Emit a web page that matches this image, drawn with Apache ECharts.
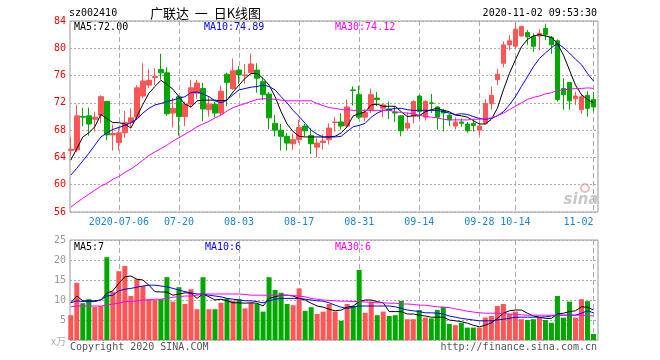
<!DOCTYPE html>
<html>
<head>
<meta charset="utf-8">
<script src="https://cdn.jsdelivr.net/npm/echarts@6/dist/echarts.min.js"></script>
<style>html,body{margin:0;padding:0;background:#fff}#c{width:660px;height:360px}</style>
</head>
<body>
<div id="c"></div>
<script>
const dates = [
'2020-06-22','2020-06-23','2020-06-24',
'2020-06-29','2020-06-30','2020-07-01','2020-07-02','2020-07-03',
'2020-07-06','2020-07-07','2020-07-08','2020-07-09','2020-07-10',
'2020-07-13','2020-07-14','2020-07-15','2020-07-16','2020-07-17',
'2020-07-20','2020-07-21','2020-07-22','2020-07-23','2020-07-24',
'2020-07-27','2020-07-28','2020-07-29','2020-07-30','2020-07-31',
'2020-08-03','2020-08-04','2020-08-05','2020-08-06','2020-08-07',
'2020-08-10','2020-08-11','2020-08-12','2020-08-13','2020-08-14',
'2020-08-17','2020-08-18','2020-08-19','2020-08-20','2020-08-21',
'2020-08-24','2020-08-25','2020-08-26','2020-08-27','2020-08-28',
'2020-08-31','2020-09-01','2020-09-02','2020-09-03','2020-09-04',
'2020-09-07','2020-09-08','2020-09-09','2020-09-10','2020-09-11',
'2020-09-14','2020-09-15','2020-09-16','2020-09-17','2020-09-18',
'2020-09-21','2020-09-22','2020-09-23','2020-09-24','2020-09-25',
'2020-09-28','2020-09-29','2020-09-30',
'2020-10-09',
'2020-10-12','2020-10-13','2020-10-14','2020-10-15','2020-10-16',
'2020-10-19','2020-10-20','2020-10-21','2020-10-22','2020-10-23',
'2020-10-26','2020-10-27','2020-10-28','2020-10-29','2020-10-30',
'2020-11-02'];

const opens = [65.0,65.1,70.0,70.1,69.6,70.2,72.2,67.3,66.2,67.6,
69.1,69.9,73.0,74.6,75.7,76.9,76.4,70.5,72.9,70.0,
71.8,73.4,74.1,71.0,71.8,70.5,76.2,74.1,76.8,76.0,
76.4,76.8,75.1,73.3,69.0,68.0,67.1,66.0,66.6,68.6,
67.2,65.5,66.2,66.6,69.1,69.2,68.6,73.9,73.2,69.9,
71.0,72.7,71.2,71.1,70.6,70.1,68.3,70.1,73.0,69.9,
72.0,71.4,70.9,70.2,68.6,69.2,68.9,69.0,68.0,69.0,
71.9,75.4,77.8,80.5,80.3,81.8,82.3,81.7,81.8,82.9,
81.6,81.1,74.1,75.0,72.6,71.0,73.1,72.5];
const closes = [65.2,70.1,69.9,68.9,69.9,72.9,67.3,67.5,67.6,69.1,
69.8,74.2,75.2,75.3,75.9,76.4,70.4,71.2,70.0,71.8,
74.2,74.9,71.1,71.8,70.5,73.7,75.0,76.7,76.1,76.1,
77.7,75.6,73.2,69.8,68.0,67.1,66.1,66.6,68.4,67.9,
66.0,66.1,66.4,68.3,69.2,68.6,71.4,73.8,69.9,70.6,
73.2,72.5,71.7,70.9,70.5,67.9,69.0,72.2,70.7,72.2,
71.9,69.9,70.5,69.5,69.2,69.0,67.9,68.7,68.6,71.9,
73.1,76.2,80.5,81.1,82.8,83.2,81.7,80.3,82.2,82.0,
80.5,72.5,73.2,72.3,73.0,72.9,71.2,71.4];
const lows = [64.3,64.8,68.6,67.2,67.8,69.0,66.5,65.0,65.0,66.9,
68.4,69.5,72.7,74.2,74.6,75.4,70.1,68.4,67.2,68.6,
71.3,72.6,69.3,70.0,69.9,70.2,71.5,73.9,74.8,74.8,
76.3,73.5,72.4,68.1,67.1,65.0,65.0,65.1,66.1,67.1,
64.5,64.0,65.1,65.9,67.8,68.1,68.3,71.6,69.6,69.3,
70.5,71.5,69.9,69.6,69.2,67.1,68.0,69.0,69.6,69.4,
70.5,68.1,67.8,68.6,68.1,68.5,67.6,67.8,67.2,68.8,
71.0,74.6,77.2,79.7,80.0,81.7,80.5,79.5,79.7,81.2,
79.2,72.2,71.0,71.0,71.7,70.4,70.0,70.7];
const highs = [67.0,71.7,71.3,71.3,70.7,73.1,72.3,68.8,68.4,70.8,
71.2,74.6,77.8,77.0,77.1,79.2,77.2,72.7,73.1,72.2,
75.4,75.4,74.9,73.0,72.2,74.5,76.4,78.5,77.4,77.7,
79.2,77.8,75.6,73.6,70.2,68.9,67.6,67.5,69.5,68.9,
68.3,66.8,67.4,69.0,69.9,70.5,72.5,74.4,74.5,71.1,
74.1,73.6,71.9,72.2,71.5,70.2,70.6,72.4,73.2,72.4,
73.3,71.5,71.1,70.4,69.9,69.7,69.2,69.6,69.2,72.5,
74.4,77.0,81.0,81.9,83.7,83.3,82.7,82.2,82.8,83.6,
81.8,81.3,75.6,75.0,73.6,73.3,73.7,73.6];

const ma5 = [63.6,65.3,67.0,67.6,68.5,70.3,69.7,69.1,69.1,68.9,
68.3,70.0,71.8,73.4,74.4,75.3,74.7,74.0,72.9,71.8,
71.4,72.3,72.4,72.4,72.4,72.3,72.4,73.6,74.6,75.6,
76.3,76.3,75.6,74.6,72.9,70.7,68.9,67.8,67.1,67.0,
67.0,67.0,67.0,67.0,67.1,67.6,68.5,70.1,70.4,70.7,
71.7,71.8,71.5,71.5,71.5,70.7,70.0,70.1,70.1,70.7,
71.0,71.2,70.9,70.7,70.2,70.1,69.9,69.4,68.9,68.9,
69.6,71.2,73.9,76.3,78.3,80.2,81.3,81.8,82.0,81.8,
81.6,80.7,79.0,76.8,74.6,73.2,72.5,72.0];
const ma10 = [61.4,62.4,63.5,64.6,65.8,67.0,67.6,68.1,68.4,68.7,
69.1,69.6,70.5,71.2,71.7,71.9,72.2,72.4,72.7,72.9,
73.5,73.6,73.3,72.9,72.3,72.0,72.4,73.2,73.9,74.1,
74.3,74.4,74.6,74.4,73.9,72.9,72.0,70.9,70.0,69.0,
68.0,67.4,67.0,67.0,67.0,67.1,67.8,68.5,68.7,69.0,
69.9,70.5,70.9,71.0,71.2,71.2,71.0,70.9,70.9,70.9,
70.9,70.9,70.7,70.5,70.3,70.4,70.3,70.0,69.7,69.6,
69.7,70.1,70.7,71.7,72.9,74.4,75.8,77.3,78.5,79.3,
80.1,80.7,80.1,79.3,78.4,77.6,76.3,75.2];
const ma30 = [56.7,57.4,58.0,58.6,59.2,59.8,60.2,60.8,61.2,61.8,
62.3,62.9,63.6,64.3,64.8,65.3,65.8,66.4,66.9,67.4,
67.9,68.5,68.9,69.3,69.8,70.2,70.8,71.3,71.6,71.9,
72.2,72.5,72.6,72.6,72.5,72.4,72.3,72.3,72.3,72.3,
72.3,71.9,71.6,71.3,71.2,71.0,71.0,70.9,70.9,70.9,
70.9,70.9,70.9,70.9,70.7,70.6,70.5,70.4,70.2,70.0,
69.9,69.8,69.6,69.5,69.5,69.5,69.5,69.6,69.6,69.7,
69.8,70.1,70.5,71.0,71.5,72.0,72.5,72.8,73.0,73.3,
73.5,73.8,73.9,74.0,74.1,74.1,74.2,74.12];

const volumes = [6.2,14.3,9.2,10.2,8.3,8.5,20.7,12.1,17.2,18.5,
11.0,15.2,13.5,10.2,10.0,10.2,15.7,9.6,13.2,9.0,
12.7,7.7,15.7,7.7,7.7,9.3,10.4,9.8,10.2,7.9,
9.3,9.0,7.1,15.7,12.5,11.8,9.0,8.7,12.9,7.3,
8.2,6.5,7.1,9.0,7.1,4.8,9.0,8.5,17.5,6.8,
9.6,6.2,7.1,6.0,6.2,9.8,5.2,5.2,7.5,5.6,
5.4,7.5,8.3,4.0,3.7,4.3,3.1,3.1,3.1,5.6,
6.0,8.5,9.0,6.5,7.1,5.2,5.0,5.2,5.7,5.0,
4.3,11.0,5.6,9.6,5.6,10.2,9.7,1.5];
const volMa5 = [9.3,11.0,9.8,9.8,9.8,10.0,11.7,12.3,14.2,15.8,
16.0,15.2,15.0,13.7,12.1,12.0,12.0,11.2,11.5,11.8,
11.7,10.4,11.5,10.8,10.0,10.2,9.8,9.3,9.3,9.2,
9.3,9.2,8.5,10.4,10.8,11.2,11.2,11.0,10.4,10.0,
9.2,8.5,8.2,7.7,7.3,7.5,8.2,8.5,9.6,10.0,
10.0,9.6,9.3,7.1,7.1,7.1,6.5,6.5,6.2,6.0,
5.7,5.7,5.7,5.0,4.8,4.6,4.2,3.7,3.3,3.7,
4.3,5.4,6.7,7.3,7.5,7.5,6.7,6.0,5.7,5.4,
5.4,6.5,6.7,7.1,7.3,8.3,8.2,7.5];
const volMa10 = [9.3,9.8,9.6,9.6,9.6,10.0,11.0,11.2,12.3,12.7,
12.9,13.2,13.5,13.7,13.7,13.5,13.3,12.9,12.5,12.1,
11.8,11.5,11.5,11.2,11.0,10.8,10.4,10.2,10.0,9.8,
9.8,9.6,9.3,9.8,10.2,10.4,10.4,10.4,10.4,10.2,
10.0,9.8,9.7,9.3,8.7,8.2,7.9,8.2,8.5,8.5,
8.5,8.5,8.5,8.5,8.3,7.9,7.5,7.3,7.1,6.8,
6.8,6.7,6.5,6.0,5.7,5.4,5.2,5.0,4.8,4.8,
4.8,5.0,5.2,5.4,5.7,5.7,5.7,5.7,5.7,5.8,
6.0,6.2,6.2,6.2,6.2,6.7,7.3,6.8];
const volMa30 = [8.3,8.5,8.5,8.5,8.5,8.5,8.7,9.0,9.2,9.6,
9.6,9.8,10.0,10.0,10.2,10.2,10.4,10.7,10.8,11.0,
11.0,11.2,11.5,11.5,11.5,11.5,11.5,11.5,11.5,11.4,
11.2,11.2,11.2,11.2,11.2,11.2,11.2,11.1,11.0,10.8,
10.4,10.2,10.0,9.9,9.8,9.7,9.7,9.6,9.6,9.5,
9.4,9.3,9.3,9.2,9.2,9.0,9.0,8.9,8.7,8.7,
8.5,8.3,8.2,8.1,7.8,7.5,7.2,7.0,6.8,6.7,
6.7,6.7,6.6,6.5,6.4,6.3,6.2,6.2,6.2,6.2,
6.2,6.2,6.2,6.2,6.2,6.2,6.1,6.0];

const tickDates = ['2020-07-06','2020-07-20','2020-08-03','2020-08-17','2020-08-31','2020-09-14','2020-09-28','2020-10-14','2020-11-02'];
const tickLabels = ['2020-07-06','07-20','08-03','08-17','08-31','09-14','09-28','10-14','11-02'];

const RED = '#ff5555', GREEN = '#00a800';
const MONO = 'DejaVu Sans Mono';
const isTick = (idx, val) => tickDates.indexOf(val) >= 0;

const chart = echarts.init(document.getElementById('c'), null, {renderer: 'canvas'});

const frameY = (gi, min, max, interval, color, fmt) => ({
  gridIndex: gi, type: 'value', min, max, interval,
  axisLine: {show: false}, axisTick: {show: false},
  axisLabel: {color, fontFamily: MONO, fontSize: 10, margin: 4, formatter: fmt},
  splitLine: {show: true, lineStyle: {color: '#aaaaaa', type: [2, 2], width: 1}}
});
const hiddenX = gi => ({gridIndex: gi, type: 'value', min: 0, max: 1, show: false});
const dataX = (gi, showLabels) => ({
  gridIndex: gi, type: 'category', data: dates, boundaryGap: false,
  axisLine: {show: false}, axisTick: {show: false},
  axisLabel: {show: showLabels, interval: isTick, color: '#1a86d0', fontFamily: MONO, fontSize: 10, margin: 5,
    alignMaxLabel: 'right',
    formatter: v => { const k = tickDates.indexOf(v); return k >= 0 ? tickLabels[k] : ''; }},
  splitLine: {show: true, interval: isTick, lineStyle: {color: '#aaaaaa', type: [5, 3], width: 1}}
});

const line = (name, data, color, xi, yi) => ({
  name, type: 'line', data, xAxisIndex: xi, yAxisIndex: yi, showSymbol: false, symbol: 'none',
  lineStyle: {color, width: 1}, itemStyle: {color}, z: 5, silent: true
});

const txt = (text, x, y, fill, font, align) => ({
  type: 'text', x, y, silent: true,
  style: {text, fill, font, textAlign: align || 'left', textVerticalAlign: 'middle'}
});

chart.setOption({
  animation: false,
  backgroundColor: '#fff',
  grid: [
    {left: 70, top: 21, width: 528, height: 191, show: true, borderColor: '#999', borderWidth: 1, backgroundColor: 'transparent'},
    {left: 70.8, top: 21, width: 522.7, height: 191},
    {left: 70, top: 240, width: 528, height: 100, show: true, borderColor: '#999', borderWidth: 1, backgroundColor: 'transparent'},
    {left: 70.8, top: 240, width: 522.7, height: 100}
  ],
  xAxis: [hiddenX(0), dataX(1, true), hiddenX(2), dataX(3, false)],
  yAxis: [
    frameY(0, 56, 84, 4, '#ff0000'),
    {gridIndex: 1, type: 'value', min: 56, max: 84, show: false},
    frameY(2, 0, 25, 5, '#999999', v => v === 0 ? '' : String(v)),
    {gridIndex: 3, type: 'value', min: 0, max: 25, show: false}
  ],
  series: [
    {type: 'candlestick', xAxisIndex: 1, yAxisIndex: 1, barWidth: 5,
     data: dates.map((d, i) => [opens[i], closes[i], lows[i], highs[i]]),
     itemStyle: {color: RED, color0: GREEN, borderColor: RED, borderColor0: GREEN, borderWidth: 1}, z: 3},
    line('MA5', ma5, '#000000', 1, 1),
    line('MA10', ma10, '#0000ff', 1, 1),
    line('MA30', ma30, '#ff00ff', 1, 1),
    {type: 'bar', xAxisIndex: 3, yAxisIndex: 3, barWidth: 5,
     data: volumes.map((v, i) => ({value: v, itemStyle: {color: closes[i] >= opens[i] ? RED : GREEN}})), z: 3},
    line('VMA5', volMa5, '#000000', 3, 3),
    line('VMA10', volMa10, '#0000ff', 3, 3),
    line('VMA30', volMa30, '#ff00ff', 3, 3)
  ],
  graphic: [
    txt('sz002410', 69, 13, '#000', '10px "DejaVu Sans Mono"'),
    txt('广联达  一  日K线图', 150, 13, '#000', '13px "Noto Sans CJK SC"'),
    txt('2020-11-02 09:53:30', 597, 13, '#000', '10px "DejaVu Sans Mono"', 'right'),
    txt('MA5:72.00', 74, 27, '#000', '10px "DejaVu Sans Mono"'),
    txt('MA10:74.89', 204, 27, '#0000ff', '10px "DejaVu Sans Mono"'),
    txt('MA30:74.12', 335, 27, '#ff00ff', '10px "DejaVu Sans Mono"'),
    txt('MA5:7', 74, 247, '#000', '10px "DejaVu Sans Mono"'),
    txt('MA10:6', 205, 247, '#0000ff', '10px "DejaVu Sans Mono"'),
    txt('MA30:6', 335, 247, '#ff00ff', '10px "DejaVu Sans Mono"'),
    txt('x万', 66, 341, '#b0b0b0', '10px "Noto Sans CJK SC"', 'right'),
    txt('Copyright 2020 SINA.COM', 70, 347, '#555', '10px "DejaVu Sans Mono"'),
    txt('http://finance.sina.com.cn', 597, 347, '#555', '10px "DejaVu Sans Mono"', 'right'),
    {type: 'circle', shape: {cx: 585, cy: 188, r: 4}, style: {fill: 'none', stroke: '#f4b8b8', lineWidth: 2}, silent: true},
    txt('sina', 581, 200, '#c8c8c8', 'italic bold 15px "DejaVu Sans"', 'center')
  ]
});
</script>
</body>
</html>
